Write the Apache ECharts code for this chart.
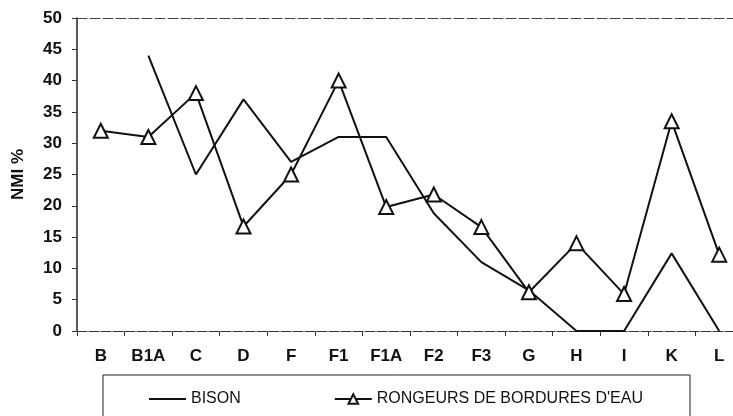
<!DOCTYPE html>
<html>
<head>
<meta charset="utf-8">
<script src="https://cdn.jsdelivr.net/npm/echarts@6/dist/echarts.min.js"></script>
<style>
  html, body { margin: 0; padding: 0; background: #fff; }
  #chart { width: 733px; height: 416px; }
</style>
</head>
<body>
<div id="chart"></div>
<script>
const sites = ['B', 'B1A', 'C', 'D', 'F', 'F1', 'F1A', 'F2', 'F3', 'G', 'H', 'I', 'K', 'L']
const bison = [null, 44, 25, 37, 27, 31, 31, 18.8, 11, 6.5, 0, 0, 12.4, 0]
const rongeurs = [32, 31, 38, 16.7, 25, 40, 19.8, 21.8, 16.6, 6.2, 14, 5.9, 33.5, 12.2]

const font = '"Liberation Sans", Arial, sans-serif'
const ink = '#111'

const chart = echarts.init(document.getElementById('chart'), null, { renderer: 'canvas' })
chart.setOption({
  animation: false,
  textStyle: { fontFamily: font, color: ink },
  grid: {
    left: 77,
    top: 18,
    bottom: 85,
    right: -10,
    containLabel: false,
    outerBoundsMode: 'none',
  },
  legend: {
    left: 103,
    top: 375,
    padding: [16, 47, 16, 45],
    itemGap: 93,
    itemWidth: 37,
    itemHeight: 12,
    borderColor: '#222',
    borderWidth: 1,
    textStyle: { fontFamily: font, fontSize: 16, color: ink },
    data: [
      { name: 'BISON', itemStyle: { opacity: 0 } },
      { name: "RONGEURS DE BORDURES D'EAU" },
    ],
  },
  xAxis: [
    {
      type: 'category',
      data: sites,
      axisLine: { lineStyle: { color: '#333', width: 1.2, type: [10, 2] } },
      axisTick: { show: true, length: 5, lineStyle: { color: '#333' } },
      axisLabel: { fontSize: 17, fontWeight: 'bold', color: ink, margin: 17 },
    },
    {
      type: 'category',
      position: 'top',
      data: sites,
      axisLine: { lineStyle: { color: '#444', width: 1.2, type: [10, 3] } },
      axisTick: { show: false },
      axisLabel: { show: false },
    },
  ],
  yAxis: {
    type: 'value',
    min: 0,
    max: 50,
    interval: 5,
    name: 'NMI %',
    nameLocation: 'middle',
    nameGap: 50,
    nameRotate: 90,
    nameTextStyle: { fontSize: 17, fontWeight: 'bold', color: ink },
    axisLine: { show: true, lineStyle: { color: '#222', width: 1.5 } },
    axisTick: { show: true, length: 5, lineStyle: { color: '#333' } },
    axisLabel: { fontSize: 17, fontWeight: 'bold', color: ink, margin: 15 },
    splitLine: { show: false },
  },
  series: [
    {
      name: 'BISON',
      type: 'line',
      data: bison,
      symbol: 'none',
      connectNulls: false,
      lineStyle: { color: ink, width: 2 },
      itemStyle: { color: ink },
    },
    {
      name: "RONGEURS DE BORDURES D'EAU",
      type: 'line',
      data: rongeurs,
      symbol: 'triangle',
      symbolSize: 14,
      showAllSymbol: true,
      lineStyle: { color: ink, width: 2 },
      itemStyle: { color: '#fff', borderColor: ink, borderWidth: 2 },
    },
  ],
})
</script>
</body>
</html>
